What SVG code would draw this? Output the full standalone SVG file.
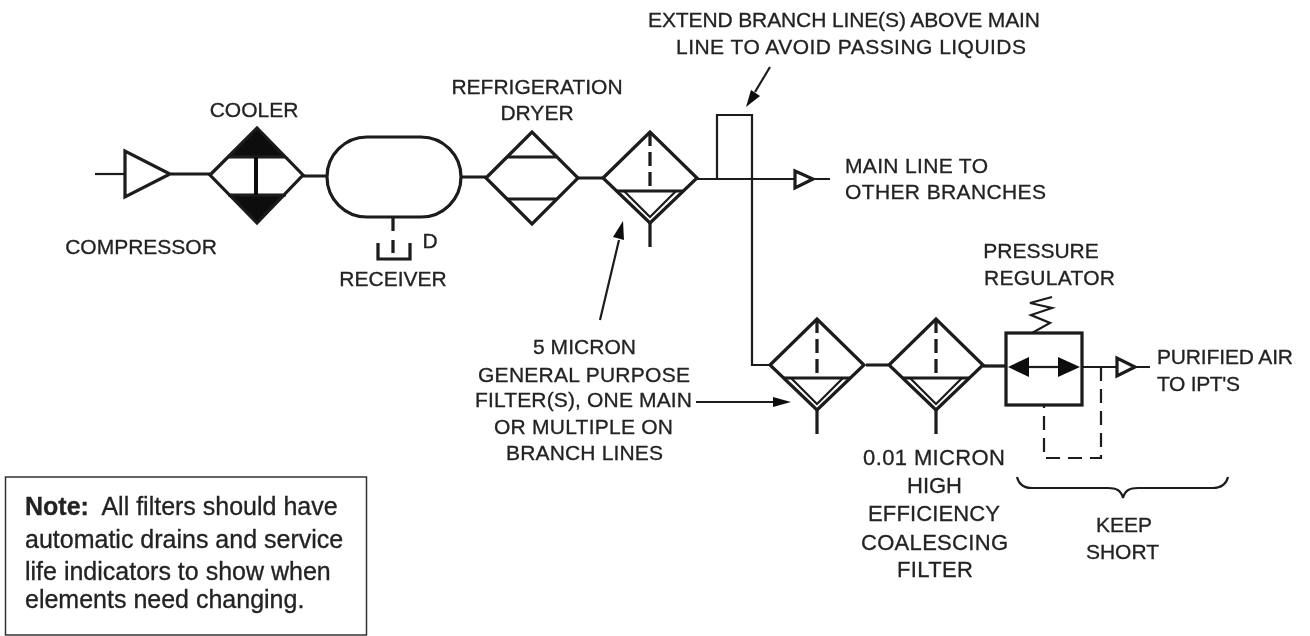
<svg xmlns="http://www.w3.org/2000/svg" width="1310" height="636" viewBox="0 0 1310 636">
<style>
text{font-family:"Liberation Sans",Arial,sans-serif;font-size:21px;fill:#222;stroke:#222;stroke-width:.3px;text-anchor:middle}
text.n{font-size:25px;text-anchor:start}
text.l{text-anchor:start}
text.g{font-size:22px}
.s{fill:none;stroke:#1a1a1a;stroke-width:3.200;stroke-linejoin:miter}
.t{fill:none;stroke:#1a1a1a;stroke-width:2.200}
.k{fill:#111;stroke:none}
</style>
<defs>
<filter id="b" x="-2%" y="-2%" width="104%" height="104%"><feGaussianBlur stdDeviation="0.5"/></filter>
<g id="filterSym">
<path class="s" d="M-47 0L0-46L47 0L0 45Z"/>
<path class="s" d="M0-46V13" stroke-dasharray="14 6"/>
<path class="s" d="M-33 13H33"/>
<path class="t" d="M-26 13L0 39L26 13"/>
<path class="s" d="M0 45V69"/>
</g>
</defs>
<rect width="1310" height="636" fill="#fff"/>
<g filter="url(#b)">
<g id="connectors">
<path class="t" d="M95 174H125"/>
<path class="s" d="M171 174H210M303 176H327M461 177H486M578 178H603M866 365H888"/>
<path class="t" d="M697 179H795M814 179H830"/>
<path class="t" d="M717 179V115H752V179"/>
<path class="t" d="M752 179V365H770"/>
<path class="s" d="M983 366H1006"/>
<path class="t" d="M1082 367H1117M1136 367H1150"/>
<path class="t" d="M770 67L755 92"/>
<path class="k" d="M746 107L751 90L760 96Z"/>
<path class="t" d="M600 320L619 240"/>
<path class="k" d="M623 221L624 240L613 237Z"/>
<path class="t" d="M696 402H775"/>
<path class="k" d="M791 402L773 397V407Z"/>
</g>
<g id="compressor">
<path class="s" d="M125 151V197L170 174Z"/>
<text x="141" y="254">COMPRESSOR</text>
</g>
<g id="cooler">
<path class="k" d="M257 128L228 157H286ZM257 223L228 195H286Z"/>
<path class="s" d="M210 175L257 128L303 175L257 223Z"/>
<path class="s" d="M228 157H286M228 195H286"/>
<path d="M256 157V195" fill="none" stroke="#111" stroke-width="4"/>
<text x="254" y="117">COOLER</text>
</g>
<g id="receiver">
<rect class="s" x="327" y="137" width="134" height="80" rx="40" ry="40"/>
<path class="s" d="M393 217V231M393 240V253"/>
<path class="s" d="M378 243V259H410V243"/>
<text x="430" y="248">D</text>
<text x="393" y="286">RECEIVER</text>
</g>
<g id="dryer">
<path class="s" d="M486 178L532 132L578 178L532 224Z"/>
<path class="s" d="M507 157H556M507 199H556"/>
<text x="537" y="94">REFRIGERATION</text>
<text x="537" y="120">DRYER</text>
</g>
<g id="filter-main"><use href="#filterSym" x="650" y="178"/></g>
<g id="filter-branch"><use href="#filterSym" x="817" y="365"/></g>
<g id="filter-coalescing"><use href="#filterSym" x="936" y="365"/></g>
<g id="main-outlet">
<path class="s" d="M795 171V188L813 179Z"/>
<text class="l" x="845" y="173" textLength="143">MAIN LINE TO</text>
<text class="l" x="845" y="199" textLength="201">OTHER BRANCHES</text>
</g>
<g id="regulator">
<rect class="s" x="1006" y="333" width="76" height="72"/>
<path class="t" d="M1029 367H1058"/>
<path class="k" d="M1008 367L1029 357V377ZM1080 367L1058 357V377Z"/>
<path class="t" d="M1032 333L1050 323L1031 315L1052 308L1030 303L1052 297"/>
<path class="t" d="M1101 367V458H1044V405" stroke-dasharray="14 8"/>
<text x="1041" y="258">PRESSURE</text>
<text class="l" x="984" y="285" textLength="131">REGULATOR</text>
</g>
<g id="outlet">
<path class="s" d="M1117 358V376L1135 367Z"/>
<text class="l" x="1157" y="364" textLength="136">PURIFIED AIR</text>
<text class="l" x="1157" y="391" textLength="83">TO IPT'S</text>
</g>
<g id="labels">
<text class="l" x="648" y="27" textLength="392">EXTEND BRANCH LINE(S) ABOVE MAIN</text>
<text class="l" x="676" y="54" textLength="350">LINE TO AVOID PASSING LIQUIDS</text>
<text class="l" x="533" y="354" textLength="103">5 MICRON</text>
<text class="l" x="478" y="382" textLength="212">GENERAL PURPOSE</text>
<text class="l" x="475" y="407" textLength="217">FILTER(S), ONE MAIN</text>
<text class="l" x="494" y="434" textLength="179">OR MULTIPLE ON</text>
<text class="l" x="506" y="460" textLength="157">BRANCH LINES</text>
<text class="l g" x="863" y="465" textLength="142">0.01 MICRON</text>
<text class="l g" x="907" y="493" textLength="55">HIGH</text>
<text class="l g" x="868" y="521" textLength="132">EFFICIENCY</text>
<text class="l g" x="861" y="550" textLength="147">COALESCING</text>
<text class="l g" x="897" y="577" textLength="76">FILTER</text>
<text x="1124" y="532">KEEP</text>
<text x="1122.500" y="559">SHORT</text>
<path class="t" stroke-width="2.500" d="M1017 477C1019 485 1024 488 1032 488H1108C1116 488 1121 490 1123 498C1125 490 1130 488 1138 488H1213C1221 488 1226 485 1228 477"/>
</g>
<g id="note">
<rect x="5.500" y="477" width="361" height="158" fill="none" stroke="#333" stroke-width="1.500"/>
<text class="n" x="25" y="515"><tspan font-weight="bold">Note:</tspan>&#160; All filters should have</text>
<text class="n" x="25" y="548">automatic drains and service</text>
<text class="n" x="25" y="580">life indicators to show when</text>
<text class="n" x="25" y="608">elements need changing.</text>
</g>
</g>
</svg>
